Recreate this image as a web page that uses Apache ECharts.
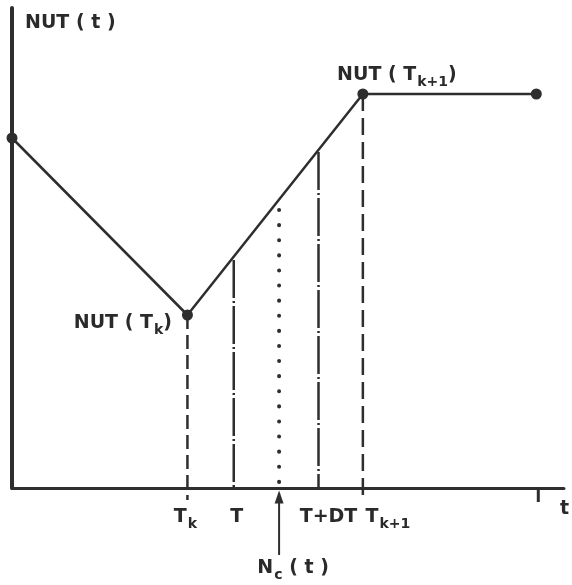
<!DOCTYPE html>
<html><head><meta charset="utf-8">
<script src="https://cdn.jsdelivr.net/npm/echarts@6/dist/echarts.min.js"></script>
<style>html,body{margin:0;padding:0;background:#fff}#c{width:572px;height:585px}</style>
</head><body><div id="c"></div>
<script>
// NUT(t) piecewise-linear curve: knot times and values
const knotTimes = [0, 178, 356, 532];
const knotValues = [350, 173, 394, 394];
const knotLabels = ['', '{m|NUT ( T}{s|k}{m|)}', '{m|NUT ( T}{s|k+1}{m|)}', ''];
// vertical guide lines: Tk, T, Nc(t), T+DT, Tk+1
const guideNames = ['Tk', 'T', 'Nc', 'T+DT', 'Tk+1'];
const guideTimes = [178, 225, 271, 311, 356];
const guideTops = [173, 228, 278, 336, 394];
const guideBottoms = [-12, 0, 0, 0, -12];
// labels under the time axis
const tickTimes = [178, 225, 311, 356];
const tickLabels = ['{m|T}{s|k}', '{m|T}', '{m|T+DT}', '{m|T}{s|k+1}'];
// extra axis tick near the right end
const endTickTimes = [534];
const endTickDepth = [-14];
// arrow pointing to Nc(t)
const arrowTime = 271;
const arrowFrom = -67, arrowTo = -5;
const arrowLabel = '{m|N}{s|c}{m| ( t )}';

const ink = '#2e2e2e';
const txt = '#2a2a2a';
const FONT = 'DejaVu Sans';
const rich = {
  m: {fontFamily: FONT, fontWeight: 'bold', fontSize: 19, color: txt, lineHeight: 22},
  s: {fontFamily: FONT, fontWeight: 'bold', fontSize: 14, color: txt, lineHeight: 14, padding: [14, 0, 0, 1]}
};

const guideStyles = {
  'Tk': {type: [14, 6], width: 2.5},
  'T': {type: [38, 3, 2, 3], width: 2.5},
  'Nc': {type: [0.1, 15], width: 4, cap: 'round'},
  'T+DT': {type: [38, 3, 2, 3], width: 2.5},
  'Tk+1': {type: [17, 7], width: 2.5}
};

const series = [];
guideNames.forEach((n, i) => {
  series.push({
    type: 'line', name: n, clip: false, symbol: 'none', silent: true, z: 1,
    data: [[guideTimes[i], guideTops[i]], [guideTimes[i], guideBottoms[i]]],
    lineStyle: Object.assign({color: ink}, guideStyles[n])
  });
});
endTickTimes.forEach((t, i) => {
  series.push({
    type: 'line', clip: false, symbol: 'none', silent: true,
    data: [[t, 0], [t, endTickDepth[i]]],
    lineStyle: {color: ink, width: 3}
  });
});

const labelCfg = [
  null,
  {position: 'left', distance: 10, offset: [0, 8]},
  {position: 'top', distance: 2, offset: [34, 0]},
  null
];
series.push({
  type: 'line', name: 'NUT', clip: false, z: 5,
  symbol: 'circle', symbolSize: 11,
  itemStyle: {color: ink},
  lineStyle: {color: ink, width: 2.5},
  data: knotTimes.map((t, i) => {
    const d = {value: [t, knotValues[i]]};
    if (labelCfg[i]) d.label = Object.assign({show: true, formatter: knotLabels[i], rich}, labelCfg[i]);
    return d;
  })
});

const tickOffsets = [[-2, 0], [3, 0], [10, 0], [25, 0]];
const labelData = tickTimes.map((t, i) => ({
  value: [t, 0],
  label: {show: true, position: 'bottom', distance: 18, formatter: tickLabels[i], rich, offset: tickOffsets[i]}
}));
labelData.push({
  value: [arrowTime, arrowFrom],
  label: {show: true, position: 'bottom', distance: 2, formatter: arrowLabel, rich, offset: [14, 0]}
});
series.push({
  type: 'scatter', clip: false, symbolSize: 0.01, silent: true,
  itemStyle: {opacity: 1, color: '#fff'},
  data: labelData
});

// arrow: shaft + triangular head
series.push({
  type: 'line', clip: false, silent: true, z: 3,
  lineStyle: {color: ink, width: 2},
  itemStyle: {color: ink},
  data: [
    {value: [arrowTime, arrowFrom], symbol: 'none'},
    {value: [arrowTime, arrowTo], symbol: 'triangle', symbolSize: [9, 13], symbolOffset: [0, 4]}
  ]
});

const chart = echarts.init(document.getElementById('c'), null, {renderer: 'canvas'});
chart.setOption({
  animation: false,
  backgroundColor: '#fff',
  grid: {left: 12, right: 0, top: 8, bottom: 97, containLabel: false},
  xAxis: {
    type: 'value', min: 0, max: 560,
    name: 't', nameLocation: 'end', nameGap: -4,
    nameTextStyle: {fontFamily: FONT, fontWeight: 'bold', fontSize: 19, color: txt, align: 'left', verticalAlign: 'top', padding: [12, 0, 0, 0]},
    axisLine: {onZero: false, lineStyle: {color: ink, width: 3}},
    axisTick: {show: false}, axisLabel: {show: false}, splitLine: {show: false}
  },
  yAxis: {
    type: 'value', min: 0, max: 480,
    name: 'NUT ( t )', nameLocation: 'end', nameGap: -15,
    nameTextStyle: {fontFamily: FONT, fontWeight: 'bold', fontSize: 19, color: txt, align: 'left', verticalAlign: 'middle', padding: [0, 0, 0, 13]},
    axisLine: {lineStyle: {color: ink, width: 4}},
    axisTick: {show: false}, axisLabel: {show: false}, splitLine: {show: false}
  },
  series
});
</script></body></html>
